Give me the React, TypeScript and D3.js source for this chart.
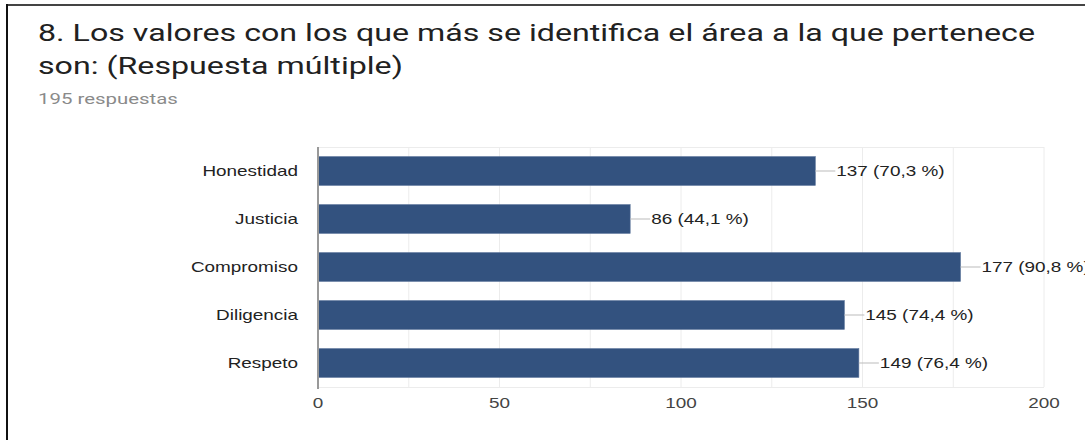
import React from "react";
import * as d3 from "d3";

const categories = ["Honestidad", "Justicia", "Compromiso", "Diligencia", "Respeto"];
const counts = [137, 86, 177, 145, 149];
const percents = ["70,3", "44,1", "90,8", "74,4", "76,4"];
const xTicks = [0, 50, 100, 150, 200];
const gridTicks = [0, 25, 50, 75, 100, 125, 150, 175, 200];
const titleLines = [
  "8. Los valores con los que más se identifica el área a la que pertenece",
  "son: (Respuesta múltiple)",
];
const subtitle = "195 respuestas";

const SX = 1.35;

function SText(props: {
  x: number;
  y: number;
  sx: number;
  anchor?: "start" | "middle" | "end";
  dy?: string;
  font: string;
  size: number;
  fill: string;
  children: React.ReactNode;
}) {
  return (
    <g transform={`translate(${props.x},${props.y}) scale(${props.sx},1)`}>
      <text
        x={0}
        y={0}
        dy={props.dy}
        textAnchor={props.anchor || "start"}
        fontFamily={props.font}
        fontSize={props.size}
        fill={props.fill}
      >
        {props.children}
      </text>
    </g>
  );
}

export default function App() {
  const W = 1085;
  const H = 440;
  const x = d3.scaleLinear().domain([0, 200]).range([318, 1044]);
  const y = d3
    .scaleBand<string>()
    .domain(categories)
    .range([147, 387])
    .paddingInner(0.4)
    .paddingOuter(0.2);
  const labelFont = "Arial, 'Liberation Sans', sans-serif";
  const roboto = "Roboto, sans-serif";
  return (
    <svg
      width={W}
      height={H}
      style={{ position: "absolute", left: 0, top: 0, background: "#fff" }}
    >
      <rect x={0} y={0} width={W} height={H} fill="#fff" />
      <line x1={7} x2={W} y1={5} y2={5} stroke="#444" strokeWidth={2} />
      <line x1={7} x2={7} y1={4} y2={H} stroke="#111" strokeWidth={2} />
      {titleLines.map((t, i) => (
        <SText key={i} x={38} y={41 + i * 33} sx={1.4} font={roboto} size={23} fill="#212121">
          {t}
        </SText>
      ))}
      <SText x={38} y={104} sx={1.36} font={roboto} size={15} fill="#8a8a8a">
        {subtitle}
      </SText>
      {/* grid */}
      {gridTicks.map((t) => (
        <line
          key={t}
          x1={x(t)}
          x2={x(t)}
          y1={147}
          y2={387}
          stroke="#ececec"
          strokeWidth={1}
        />
      ))}
      <line x1={318} x2={1044} y1={147.5} y2={147.5} stroke="#ececec" />
      <line x1={318} x2={1044} y1={387.5} y2={387.5} stroke="#ececec" />
      {/* bars */}
      {categories.map((c, i) => {
        const y0 = y(c)!;
        const bw = y.bandwidth();
        const x1 = x(counts[i]);
        return (
          <g key={c}>
            <rect
              x={x(0)}
              y={y0}
              width={x1 - x(0)}
              height={bw}
              fill="#33527f"
              stroke="#5a7399"
              strokeWidth={0.6}
            />
            <line
              x1={x1}
              x2={x1 + 20}
              y1={y0 + bw / 2}
              y2={y0 + bw / 2}
              stroke="#bbb"
              strokeWidth={1}
            />
            <SText
              x={x1 + 21}
              y={y0 + bw / 2}
              sx={SX}
              dy="0.35em"
              font={labelFont}
              size={14}
              fill="#222"
            >
              {`${counts[i]} (${percents[i]} %)`}
            </SText>
            <SText
              x={298}
              y={y0 + bw / 2}
              sx={SX}
              dy="0.35em"
              anchor="end"
              font={labelFont}
              size={14}
              fill="#222"
            >
              {c}
            </SText>
          </g>
        );
      })}
      <line x1={318} x2={318} y1={147} y2={389} stroke="#999" strokeWidth={2} />
      {xTicks.map((t) => (
        <SText
          key={t}
          x={x(t)}
          y={403}
          sx={SX}
          dy="0.35em"
          anchor="middle"
          font={labelFont}
          size={14}
          fill="#444"
        >
          {t}
        </SText>
      ))}
    </svg>
  );
}
